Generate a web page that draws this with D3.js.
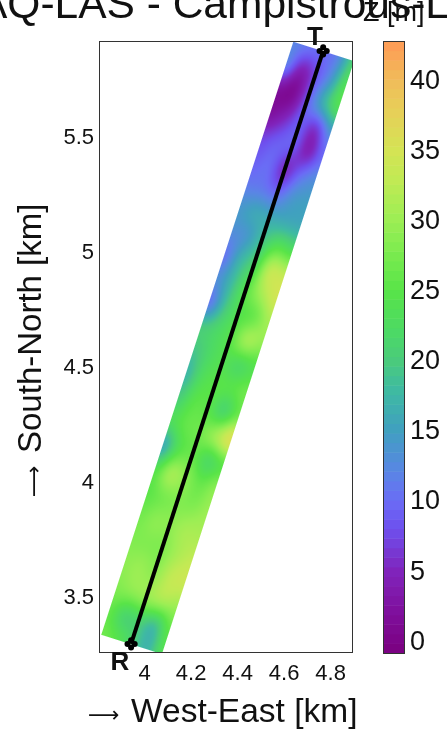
<!DOCTYPE html>
<html>
<head>
<meta charset="utf-8">
<script src="https://cdn.jsdelivr.net/npm/d3@7"></script>
<style>
    html, body { margin: 0; padding: 0; background: #fff; overflow: hidden; }
    #chart { position: relative; width: 447px; height: 730px; overflow: hidden; }
    canvas, svg { position: absolute; left: 0; top: 0; }
    text { font-family: "Liberation Sans", Arial, sans-serif; fill: #111; }
</style>
</head>
<body>
<div id="chart"></div>
<script>
// Path end points, km
const receiver = [3.944, 3.296];
const transmitter = [4.770, 5.869];
const halfWidthKm = 0.137;

// Z [m] along the path, R to T, one array per line across the swath
const zWest = [27, 26, 28, 29, 28, 27, 25, 24, 15, 23, 20, 17, 19, 20, 10, 13, 10, 13, 14, 11, 9, 7, 2, 2, 12, 12];
const zWestMid = [25, 21, 29, 30, 28, 29, 27, 31, 24, 26, 25, 23, 22, 22, 19, 18, 17, 14, 16, 11, 10, 9, 5, 1, 4, 11];
const zCenter = [21, 21, 30, 29, 28, 29, 28, 29, 26, 27, 25, 25, 24, 25, 24, 25, 22, 19, 16, 10, 5, 9, 9, 9, 8, 10];
const zEastMid = [17, 18, 31, 33, 31, 31, 28, 26, 22, 31, 21, 25, 22, 31, 26, 31, 33, 24, 16, 14, 10, 4, 6, 17, 14, 12];
const zEast = [24, 26, 30, 34, 33, 31, 30, 29, 25, 37, 27, 27, 24, 29, 31, 35, 33, 23, 16, 15, 13, 10, 14, 24, 24, 21];

const xTicks = [4, 4.2, 4.4, 4.6, 4.8];
const yTicks = [3.5, 4, 4.5, 5, 5.5];
const barTicks = [0, 5, 10, 15, 20, 25, 30, 35, 40];

// Colormap stops
const colorValues = [-0.9, 2, 5, 8, 10, 12, 15, 18, 20, 22, 25, 28, 30, 33, 35, 38, 40, 42.8];
const colorStops = ["#7a0080", "#7f0f9c", "#8024bc", "#6e50ee", "#6a6cf5", "#5a85e5", "#40a0c0", "#3fbba0", "#4acb7c", "#4cd966", "#58e448", "#80ec50", "#9cee54", "#c2ea54", "#d4e454", "#e8ce58", "#f0bc5a", "#ff9a55"];

const width = 447;
const height = 730;
const box = { left: 99, right: 352, top: 41, bottom: 652 };
const bar = { left: 383, right: 404, top: 41, bottom: 653 };

const x = d3.scaleLinear().domain([3.806, 4.894]).range([box.left, box.right]);
const y = d3.scaleLinear().domain([3.261, 5.912]).range([box.bottom, box.top]);
const zBar = d3.scaleLinear().domain([-0.9, 42.8]).range([bar.bottom, bar.top]);

const color = d3.scaleLinear().domain(colorValues).range(colorStops).clamp(true);
const levels = 64;

const chart = d3.select("#chart");
const canvas = chart.append("canvas").attr("width", width).attr("height", height);
const ctx = canvas.node().getContext("2d");
const svg = chart.append("svg").attr("width", width).attr("height", height);

// Catmull-Rom so the swath looks smooth like the original
function cubic(a, b, c, d, t) {
    return 0.5 * (2 * b + (c - a) * t + (2 * a - 5 * b + 4 * c - d) * t * t + (3 * b - a - 3 * c + d) * t * t * t);
}
const columns = [zWest, zWestMid, zCenter, zEastMid, zEast];
const at = (i, j) => columns[Math.max(0, Math.min(4, i))][Math.max(0, Math.min(zWest.length - 1, j))];
function zAt(s, t) {
    const fi = Math.max(0, Math.min(3.9999, s));
    const fj = Math.max(0, Math.min(zWest.length - 1.0001, t));
    const i = Math.floor(fi), j = Math.floor(fj);
    const vals = [-1, 0, 1, 2].map(di => cubic(at(i + di, j - 1), at(i + di, j), at(i + di, j + 1), at(i + di, j + 2), fj - j));
    return cubic(vals[0], vals[1], vals[2], vals[3], fi - i);
}
// small box blur in grid space, the original has no sharp spots
const blurOffsets = [-0.25, 0, 0.25];
function zSoft(s, t) {
    return d3.mean(blurOffsets.flatMap(a => blurOffsets.map(b => zAt(s + a, t + b))));
}

function drawSwath() {
    const dx = transmitter[0] - receiver[0];
    const dy = transmitter[1] - receiver[1];
    const len = Math.hypot(dx, dy);
    const image = ctx.createImageData(width, height);
    for (let py = box.top; py <= box.bottom; py++) {
        for (let px = box.left; px <= box.right; px++) {
            const rx = x.invert(px) - receiver[0];
            const ry = y.invert(py) - receiver[1];
            const along = (rx * dx + ry * dy) / len;
            const across = (rx * dy - ry * dx) / len;
            // distance to the swath edge in pixels, for a soft edge
            const edge = Math.min(along, len - along, halfWidthKm - Math.abs(across)) * 232;
            if (edge < -0.5) continue;
            const z = zSoft((across / halfWidthKm + 1) * 2, along / len * (zWest.length - 1));
            const c = d3.rgb(color(z));
            const k = (py * width + px) * 4;
            image.data[k] = c.r;
            image.data[k + 1] = c.g;
            image.data[k + 2] = c.b;
            image.data[k + 3] = 255 * Math.min(1, edge + 0.5);
        }
    }
    ctx.putImageData(image, 0, 0);
}
drawSwath();

// Title and colorbar label run into each other in the original too
svg.append("text").attr("x", -21).attr("y", 18).attr("font-size", 42.5).text("AQ-LAS - Campistrous-L");
svg.append("text").attr("x", 363).attr("y", 21).attr("font-size", 27).text("Z [m]");

// Plot frame
svg.append("rect")
    .attr("x", box.left).attr("y", box.top)
    .attr("width", box.right - box.left).attr("height", box.bottom - box.top)
    .attr("fill", "none").attr("stroke", "#333").attr("stroke-width", 1)
    .attr("shape-rendering", "crispEdges");

// Axes
const xAxis = svg.append("g").attr("transform", `translate(0,${box.bottom})`)
    .call(d3.axisBottom(x).tickValues(xTicks).tickFormat(d3.format("~g")).tickSize(0).tickPadding(12));
const yAxis = svg.append("g").attr("transform", `translate(${box.left},0)`)
    .call(d3.axisLeft(y).tickValues(yTicks).tickFormat(d3.format("~g")).tickSize(0).tickPadding(5));
xAxis.select(".domain").remove();
yAxis.select(".domain").remove();
xAxis.attr("font-family", null).selectAll("text").attr("font-size", 22);
yAxis.attr("font-family", null).selectAll("text").attr("font-size", 22);

const xLabel = svg.append("text").attr("x", 88).attr("y", 722).attr("font-size", 33.5);
xLabel.append("tspan").attr("style", "font-family:'DejaVu Sans'").attr("font-size", 22).text("⟶");
xLabel.append("tspan").attr("x", 131).text("West-East [km]");

const yLabel = svg.append("text").attr("transform", "translate(41,497) rotate(-90)").attr("font-size", 33);
yLabel.append("tspan").attr("style", "font-family:'DejaVu Sans'").attr("font-size", 22).text("⟶");
yLabel.append("tspan").attr("x", 44).text("South-North [km]");

// Path line and the end markers
svg.append("line")
    .attr("x1", x(receiver[0])).attr("y1", y(receiver[1]))
    .attr("x2", x(transmitter[0])).attr("y2", y(transmitter[1]))
    .attr("stroke", "#000").attr("stroke-width", 4);

const ends = svg.append("g").selectAll("g")
    .data([receiver, transmitter])
    .join("g")
    .attr("transform", d => `translate(${x(d[0])},${y(d[1])})`);
ends.selectAll("circle")
    .data([[-3.6, 0], [3.6, 0], [0, -3.6], [0, 3.6]])
    .join("circle")
    .attr("cx", d => d[0]).attr("cy", d => d[1]).attr("r", 3).attr("fill", "#000");

svg.append("text").attr("x", 120).attr("y", 670).attr("text-anchor", "middle")
    .attr("font-size", 26).attr("font-weight", "bold").text("R");
svg.append("text").attr("x", 315).attr("y", 45).attr("text-anchor", "middle")
    .attr("font-size", 26).attr("font-weight", "bold").text("T");

// Colorbar
const bands = d3.range(levels);
svg.append("g").selectAll("rect")
    .data(bands)
    .join("rect")
    .attr("x", bar.left)
    .attr("width", bar.right - bar.left)
    .attr("y", d => zBar(-0.9 + (d + 1) / levels * 43.7))
    .attr("height", (bar.bottom - bar.top) / levels + 0.5)
    .attr("fill", d => color(-0.9 + (d + 0.5) / levels * 43.7));
svg.append("rect")
    .attr("x", bar.left).attr("y", bar.top)
    .attr("width", bar.right - bar.left).attr("height", bar.bottom - bar.top)
    .attr("fill", "none").attr("stroke", "#333").attr("stroke-width", 1)
    .attr("shape-rendering", "crispEdges");

const barAxis = svg.append("g").attr("transform", `translate(${bar.right},0)`)
    .call(d3.axisRight(zBar).tickValues(barTicks).tickSize(0).tickPadding(6));
barAxis.select(".domain").remove();
barAxis.attr("font-family", null).selectAll("text").attr("font-size", 27);
</script>
</body>
</html>
